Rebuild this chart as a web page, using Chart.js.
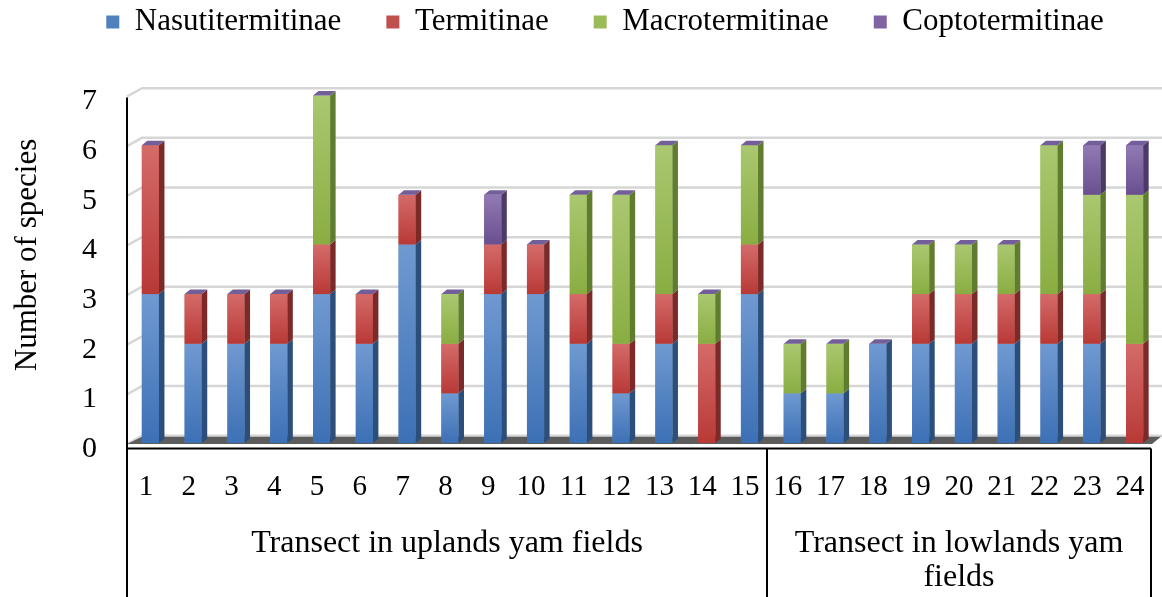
<!DOCTYPE html>
<html>
<head>
<meta charset="utf-8">
<script src="https://cdn.jsdelivr.net/npm/chart.js@4.4.1/dist/chart.umd.min.js"></script>
<style>
  html, body { margin: 0; padding: 0; background: #fff; }
  canvas { display: block; }
</style>
</head>
<body>
<canvas id="termiteChart" width="1162" height="597"></canvas>
<script>
// data
var transects = ['1', '2', '3', '4', '5', '6', '7', '8', '9', '10', '11', '12',
  '13', '14', '15', '16', '17', '18', '19', '20', '21', '22', '23', '24'];
var nasutitermitinae = [3, 2, 2, 2, 3, 2, 4, 1, 3, 3, 2, 1, 2, 0, 3, 1, 1, 2, 2, 2, 2, 2, 2, 0];
var termitinae       = [3, 1, 1, 1, 1, 1, 1, 1, 1, 1, 1, 1, 1, 2, 1, 0, 0, 0, 1, 1, 1, 1, 1, 2];
var macrotermitinae  = [0, 0, 0, 0, 3, 0, 0, 1, 0, 0, 2, 3, 3, 1, 2, 1, 1, 0, 1, 1, 1, 3, 2, 3];
var coptotermitinae  = [0, 0, 0, 0, 0, 0, 0, 0, 1, 0, 0, 0, 0, 0, 0, 0, 0, 0, 0, 0, 0, 0, 1, 1];
var yTicks = [0, 1, 2, 3, 4, 5, 6, 7];

// groups of transects below the axis (index of last transect in each group)
var groupNames = [['Transect in uplands yam fields'], ['Transect in lowlands yam', 'fields']];
var groupEnds = [14, 23];

var FONT = "'Liberation Serif', 'Times New Roman', serif";

// face colours: [top of front, bottom of front, side]
var shades = [
  ['#7099d1', '#3c70b5', '#2c4e7a'],
  ['#d46b69', '#b83936', '#7c2a28'],
  ['#aac870', '#8aad42', '#607c2e'],
  ['#917ab4', '#6a4f8f', '#4b3967']
];
var capColor = '#725e98';
var depthX = 5.5, depthY = -4.5;

// x shift between the bar plane and the front (label) plane
function frontShift(chart, x) {
  var a = chart.chartArea;
  return 2 + 3 * (x - a.left) / (a.right - a.left);
}

var excel3d = {
  id: 'excel3d',
  afterLayout: function (chart) {
    // legend row sits at the very top, a little right of centre
    var lg = chart.legend;
    var dy = -38.5 - lg.top;
    lg.top += dy; lg.bottom += dy;
    lg.left += 27; lg.right += 27;
  },
  beforeDatasetsDraw: function (chart) {
    var ctx = chart.ctx, yScale = chart.scales.y, a = chart.chartArea;
    ctx.save();
    // back wall gridlines with the 3D stubs to the axis
    yTicks.forEach(function (v) {
      var yb = yScale.getPixelForValue(v) - 7.3;
      ctx.strokeStyle = '#d6d6d6';
      ctx.lineWidth = 2.5;
      ctx.beginPath();
      ctx.moveTo(a.left - 2, yb + 8.3);
      ctx.lineTo(a.left + 13, yb);
      ctx.lineTo(chart.width, yb);
      ctx.stroke();
    });
    // floor
    var y0 = yScale.getPixelForValue(0);
    ctx.fillStyle = '#5c5c5c';
    ctx.beginPath();
    ctx.moveTo(a.left - 2, y0 + 1);
    ctx.lineTo(a.right - 4, y0 + 1);
    ctx.lineTo(a.right + 5, y0 - 6.3);
    ctx.lineTo(a.left + 13, y0 - 6.3);
    ctx.closePath();
    ctx.fill();
    ctx.restore();
  },
  afterDatasetsDraw: function (chart) {
    var ctx = chart.ctx;
    var tops = [];
    ctx.save();
    chart.data.datasets.forEach(function (ds, i) {
      var meta = chart.getDatasetMeta(i);
      meta.data.forEach(function (bar, j) {
        var p = bar.getProps(['x', 'y', 'base', 'width'], true);
        if (Math.abs(p.base - p.y) < 0.5) return;
        var l = p.x - p.width / 2, r = p.x + p.width / 2;
        var g = ctx.createLinearGradient(0, p.y, 0, p.base);
        g.addColorStop(0, shades[i][0]);
        g.addColorStop(1, shades[i][1]);
        ctx.fillStyle = g;
        ctx.fillRect(l, p.y, p.width, p.base - p.y);
        ctx.fillStyle = shades[i][2];
        ctx.beginPath();
        ctx.moveTo(r, p.base);
        ctx.lineTo(r, p.y);
        ctx.lineTo(r + depthX, p.y + depthY);
        ctx.lineTo(r + depthX, p.base + depthY);
        ctx.closePath();
        ctx.fill();
        if (tops[j] === undefined || p.y < tops[j].y) tops[j] = {y: p.y, l: l, r: r};
      });
    });
    // Excel draws the (empty) last series as the cap of every column
    ctx.fillStyle = capColor;
    tops.forEach(function (t) {
      if (!t) return;
      ctx.beginPath();
      ctx.moveTo(t.l, t.y);
      ctx.lineTo(t.r, t.y);
      ctx.lineTo(t.r + depthX, t.y + depthY);
      ctx.lineTo(t.l + depthX, t.y + depthY);
      ctx.closePath();
      ctx.fill();
    });
    ctx.restore();
  },
  afterDraw: function (chart) {
    var ctx = chart.ctx, a = chart.chartArea;
    var yScale = chart.scales.y;
    var step = (a.right - a.left) / transects.length;
    var axisY = yScale.getPixelForValue(0) + 5.5;
    var leftX = a.left - 2;
    ctx.save();
    ctx.strokeStyle = '#000';
    ctx.lineWidth = 2;
    ctx.beginPath();
    ctx.moveTo(leftX, yScale.getPixelForValue(7) + 2);
    ctx.lineTo(leftX, chart.height);
    var rightX = a.right - frontShift(chart, a.right);
    ctx.moveTo(leftX, axisY);
    ctx.lineTo(rightX, axisY);
    ctx.stroke();

    // group separators and labels
    var start = leftX;
    ctx.fillStyle = '#000';
    ctx.font = '32px ' + FONT;
    ctx.textAlign = 'center';
    ctx.textBaseline = 'middle';
    groupEnds.forEach(function (end, k) {
      var bx = a.left + (end + 1) * step;
      bx -= frontShift(chart, bx);
      ctx.beginPath();
      ctx.moveTo(bx, axisY);
      ctx.lineTo(bx, chart.height);
      ctx.stroke();
      var cx = (start + bx) / 2;
      groupNames[k].forEach(function (line, n) {
        ctx.fillText(line, cx, 544 + n * 34);
      });
      start = bx;
    });

    // y axis title
    ctx.translate(28, 255);
    ctx.rotate(-Math.PI / 2);
    ctx.font = '31px ' + FONT;
    ctx.fillText('Number of species', 0, 0);
    ctx.restore();
  }
};

var chartData = {
  labels: transects,
  datasets: [{
    label: 'Nasutitermitinae',
    data: nasutitermitinae,
    backgroundColor: '#4f81bd'
  }, {
    label: 'Termitinae',
    data: termitinae,
    backgroundColor: '#c0504d'
  }, {
    label: 'Macrotermitinae',
    data: macrotermitinae,
    backgroundColor: '#9bbb59'
  }, {
    label: 'Coptotermitinae',
    data: coptotermitinae,
    backgroundColor: '#8064a2'
  }]
};

var termiteChart = new Chart(document.getElementById('termiteChart'), {
  type: 'bar',
  data: chartData,
  plugins: [excel3d],
  options: {
    responsive: false,
    devicePixelRatio: 1,
    animation: false,
    events: [],
    datasets: {
      bar: {
        categoryPercentage: 1,
        barPercentage: 0.4,
        borderWidth: 0
      }
    },
    layout: {
      padding: {left: 0, right: 6, top: 9.5, bottom: 0}
    },
    plugins: {
      tooltip: {enabled: false},
      legend: {
        position: 'top',
        labels: {
          boxWidth: 13,
          boxHeight: 13,
          padding: 45,
          color: '#000',
          font: {family: FONT, size: 31}
        }
      }
    },
    scales: {
      x: {
        stacked: true,
        grid: {display: false},
        border: {display: false},
        ticks: {
          color: '#000',
          font: {family: FONT, size: 29},
          padding: 19,
          labelOffset: -4.5,
          maxRotation: 0,
          autoSkip: false
        },
        afterFit: function (scale) {
          scale.height = 154;
          scale.paddingLeft = 0;
          scale.paddingRight = 0;
        }
      },
      y: {
        stacked: true,
        min: 0,
        max: 7,
        grid: {display: false},
        border: {display: false},
        ticks: {
          stepSize: 1,
          color: '#000',
          font: {family: FONT, size: 30},
          padding: 24,
          labelOffset: 6
        },
        afterFit: function (scale) { scale.width = 129; }
      }
    }
  }
});
</script>
</body>
</html>
